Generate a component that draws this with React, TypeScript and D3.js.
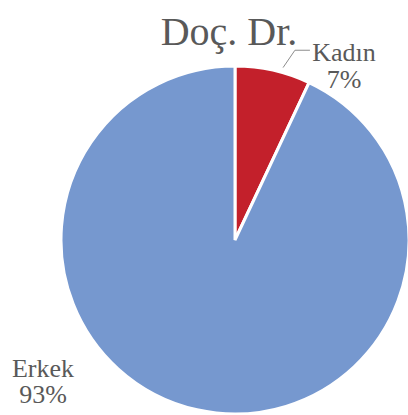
import React from "react";
import * as d3 from "d3";

const categories = ["Kadın", "Erkek"];
const values = [7, 93];
const colors = ["#C3202B", "#7698CF"];
const title = "Doç. Dr.";

export default function App() {
  const W = 408, H = 415;
  const cx = 235, cy = 240, r = 174;
  const pie = d3.pie<number>().sort(null).startAngle(0).endAngle(2 * Math.PI);
  const arcs = pie(values);
  const arcGen = d3.arc<d3.PieArcDatum<number>>().innerRadius(0).outerRadius(r);
  const font = "'Liberation Serif', 'Times New Roman', serif";
  const textColor = "#595959";

  const kad = arcs[0];
  const mid = (kad.startAngle + kad.endAngle) / 2;
  const p = (a: number, rad: number) => [Math.sin(a) * rad, -Math.cos(a) * rad];
  const [lx0, ly0] = p(mid + 0.052, r + 5);
  const [lx1, ly1] = p(mid + 0.086, r + 25);

  return (
    <svg width={W} height={H} style={{ position: "absolute", left: 0, top: 0 }}>
      <rect width={W} height={H} fill="#fff" />
      <text x={229} y={45} textAnchor="middle" fontFamily={font} fontSize={40} fill={textColor}>
        {title}
      </text>
      <g transform={`translate(${cx},${cy})`}>
        {arcs.map((a, i) => (
          <path key={categories[i]} d={arcGen(a) || ""} fill={colors[i]} stroke="#fff" strokeWidth={3} strokeLinejoin="miter" />
        ))}
        <polyline
          points={`${lx0},${ly0} ${lx1},${ly1} ${lx1 + 15},${ly1}`}
          fill="none"
          stroke="#8c8c8c"
          strokeWidth={1}
        />
      </g>
      <text fontFamily={font} fontSize={26} fill={textColor} textAnchor="middle">
        <tspan x={344} y={61}>{categories[0]}</tspan>
        <tspan x={344} y={88}>{values[0]}%</tspan>
      </text>
      <text fontFamily={font} fontSize={26} fill={textColor} textAnchor="middle">
        <tspan x={43} y={377}>{categories[1]}</tspan>
        <tspan x={43} y={403}>{values[1]}%</tspan>
      </text>
    </svg>
  );
}
